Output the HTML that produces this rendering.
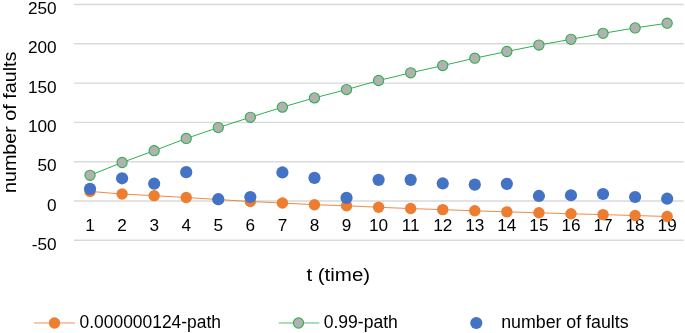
<!DOCTYPE html>
<html><head><meta charset="utf-8"><title>chart</title><style>
html,body{margin:0;padding:0;background:#fff;}
body{width:685px;height:333px;overflow:hidden;}
svg{display:block;font-family:"Liberation Sans",sans-serif;will-change:transform;}
.tk{font-size:17.2px;fill:#000;}
.xt{font-size:18.0px;fill:#000;}
.yt{font-size:19.0px;fill:#000;}
.lg{font-size:17.5px;fill:#000;}
</style></head><body>
<svg width="685" height="333" viewBox="0 0 685 333">
<line x1="74.0" y1="4.50" x2="683.6" y2="4.50" stroke="#D9D9D9" stroke-width="1.4"/>
<line x1="74.0" y1="43.80" x2="683.6" y2="43.80" stroke="#D9D9D9" stroke-width="1.4"/>
<line x1="74.0" y1="83.10" x2="683.6" y2="83.10" stroke="#D9D9D9" stroke-width="1.4"/>
<line x1="74.0" y1="122.40" x2="683.6" y2="122.40" stroke="#D9D9D9" stroke-width="1.4"/>
<line x1="74.0" y1="161.70" x2="683.6" y2="161.70" stroke="#D9D9D9" stroke-width="1.4"/>
<line x1="74.0" y1="201.00" x2="683.6" y2="201.00" stroke="#D9D9D9" stroke-width="1.4"/>
<line x1="74.0" y1="240.30" x2="683.6" y2="240.30" stroke="#D9D9D9" stroke-width="1.4"/>
<text x="56.6" y="14.10" text-anchor="end" class="tk">250</text>
<text x="56.6" y="53.40" text-anchor="end" class="tk">200</text>
<text x="56.6" y="92.70" text-anchor="end" class="tk">150</text>
<text x="56.6" y="132.00" text-anchor="end" class="tk">100</text>
<text x="56.6" y="171.30" text-anchor="end" class="tk">50</text>
<text x="56.6" y="210.60" text-anchor="end" class="tk">0</text>
<text x="56.6" y="249.90" text-anchor="end" class="tk">-50</text>
<text x="90.03" y="231.0" text-anchor="middle" class="tk">1</text>
<text x="122.09" y="231.0" text-anchor="middle" class="tk">2</text>
<text x="154.16" y="231.0" text-anchor="middle" class="tk">3</text>
<text x="186.22" y="231.0" text-anchor="middle" class="tk">4</text>
<text x="218.28" y="231.0" text-anchor="middle" class="tk">5</text>
<text x="250.35" y="231.0" text-anchor="middle" class="tk">6</text>
<text x="282.41" y="231.0" text-anchor="middle" class="tk">7</text>
<text x="314.47" y="231.0" text-anchor="middle" class="tk">8</text>
<text x="346.54" y="231.0" text-anchor="middle" class="tk">9</text>
<text x="378.60" y="231.0" text-anchor="middle" class="tk">10</text>
<text x="410.66" y="231.0" text-anchor="middle" class="tk">11</text>
<text x="442.73" y="231.0" text-anchor="middle" class="tk">12</text>
<text x="474.79" y="231.0" text-anchor="middle" class="tk">13</text>
<text x="506.85" y="231.0" text-anchor="middle" class="tk">14</text>
<text x="538.92" y="231.0" text-anchor="middle" class="tk">15</text>
<text x="570.98" y="231.0" text-anchor="middle" class="tk">16</text>
<text x="603.04" y="231.0" text-anchor="middle" class="tk">17</text>
<text x="635.11" y="231.0" text-anchor="middle" class="tk">18</text>
<text x="667.17" y="231.0" text-anchor="middle" class="tk">19</text>
<polyline points="90.03,191.41 122.09,194.00 154.16,195.66 186.22,197.54 218.28,199.51 250.35,201.55 282.41,203.04 314.47,204.69 346.54,205.79 378.60,207.29 410.66,208.55 442.73,209.65 474.79,210.82 506.85,211.85 538.92,212.79 570.98,213.81 603.04,214.60 635.11,215.54 667.17,216.48" fill="none" stroke="#ED7D31" stroke-width="0.9"/>
<circle cx="90.03" cy="191.41" r="5.7" fill="#ED7D31"/>
<circle cx="122.09" cy="194.00" r="5.7" fill="#ED7D31"/>
<circle cx="154.16" cy="195.66" r="5.7" fill="#ED7D31"/>
<circle cx="186.22" cy="197.54" r="5.7" fill="#ED7D31"/>
<circle cx="218.28" cy="199.51" r="5.7" fill="#ED7D31"/>
<circle cx="250.35" cy="201.55" r="5.7" fill="#ED7D31"/>
<circle cx="282.41" cy="203.04" r="5.7" fill="#ED7D31"/>
<circle cx="314.47" cy="204.69" r="5.7" fill="#ED7D31"/>
<circle cx="346.54" cy="205.79" r="5.7" fill="#ED7D31"/>
<circle cx="378.60" cy="207.29" r="5.7" fill="#ED7D31"/>
<circle cx="410.66" cy="208.55" r="5.7" fill="#ED7D31"/>
<circle cx="442.73" cy="209.65" r="5.7" fill="#ED7D31"/>
<circle cx="474.79" cy="210.82" r="5.7" fill="#ED7D31"/>
<circle cx="506.85" cy="211.85" r="5.7" fill="#ED7D31"/>
<circle cx="538.92" cy="212.79" r="5.7" fill="#ED7D31"/>
<circle cx="570.98" cy="213.81" r="5.7" fill="#ED7D31"/>
<circle cx="603.04" cy="214.60" r="5.7" fill="#ED7D31"/>
<circle cx="635.11" cy="215.54" r="5.7" fill="#ED7D31"/>
<circle cx="667.17" cy="216.48" r="5.7" fill="#ED7D31"/>
<polyline points="90.03,175.30 122.09,162.49 154.16,150.70 186.22,138.43 218.28,127.59 250.35,117.29 282.41,107.15 314.47,97.88 346.54,89.55 378.60,80.51 410.66,72.80 442.73,65.57 474.79,58.18 506.85,51.50 538.92,45.06 570.98,39.32 603.04,33.35 635.11,27.92 667.17,23.21" fill="none" stroke="#2DB04F" stroke-width="1.0"/>
<circle cx="90.03" cy="175.30" r="5.1" fill="#B2B0B2" stroke="#2DB04F" stroke-width="1.1"/>
<circle cx="122.09" cy="162.49" r="5.1" fill="#B2B0B2" stroke="#2DB04F" stroke-width="1.1"/>
<circle cx="154.16" cy="150.70" r="5.1" fill="#B2B0B2" stroke="#2DB04F" stroke-width="1.1"/>
<circle cx="186.22" cy="138.43" r="5.1" fill="#B2B0B2" stroke="#2DB04F" stroke-width="1.1"/>
<circle cx="218.28" cy="127.59" r="5.1" fill="#B2B0B2" stroke="#2DB04F" stroke-width="1.1"/>
<circle cx="250.35" cy="117.29" r="5.1" fill="#B2B0B2" stroke="#2DB04F" stroke-width="1.1"/>
<circle cx="282.41" cy="107.15" r="5.1" fill="#B2B0B2" stroke="#2DB04F" stroke-width="1.1"/>
<circle cx="314.47" cy="97.88" r="5.1" fill="#B2B0B2" stroke="#2DB04F" stroke-width="1.1"/>
<circle cx="346.54" cy="89.55" r="5.1" fill="#B2B0B2" stroke="#2DB04F" stroke-width="1.1"/>
<circle cx="378.60" cy="80.51" r="5.1" fill="#B2B0B2" stroke="#2DB04F" stroke-width="1.1"/>
<circle cx="410.66" cy="72.80" r="5.1" fill="#B2B0B2" stroke="#2DB04F" stroke-width="1.1"/>
<circle cx="442.73" cy="65.57" r="5.1" fill="#B2B0B2" stroke="#2DB04F" stroke-width="1.1"/>
<circle cx="474.79" cy="58.18" r="5.1" fill="#B2B0B2" stroke="#2DB04F" stroke-width="1.1"/>
<circle cx="506.85" cy="51.50" r="5.1" fill="#B2B0B2" stroke="#2DB04F" stroke-width="1.1"/>
<circle cx="538.92" cy="45.06" r="5.1" fill="#B2B0B2" stroke="#2DB04F" stroke-width="1.1"/>
<circle cx="570.98" cy="39.32" r="5.1" fill="#B2B0B2" stroke="#2DB04F" stroke-width="1.1"/>
<circle cx="603.04" cy="33.35" r="5.1" fill="#B2B0B2" stroke="#2DB04F" stroke-width="1.1"/>
<circle cx="635.11" cy="27.92" r="5.1" fill="#B2B0B2" stroke="#2DB04F" stroke-width="1.1"/>
<circle cx="667.17" cy="23.21" r="5.1" fill="#B2B0B2" stroke="#2DB04F" stroke-width="1.1"/>
<circle cx="90.03" cy="188.82" r="6.1" fill="#4472C4"/>
<circle cx="122.09" cy="178.28" r="6.1" fill="#4472C4"/>
<circle cx="154.16" cy="183.71" r="6.1" fill="#4472C4"/>
<circle cx="186.22" cy="172.15" r="6.1" fill="#4472C4"/>
<circle cx="218.28" cy="199.19" r="6.1" fill="#4472C4"/>
<circle cx="250.35" cy="196.99" r="6.1" fill="#4472C4"/>
<circle cx="282.41" cy="172.47" r="6.1" fill="#4472C4"/>
<circle cx="314.47" cy="177.89" r="6.1" fill="#4472C4"/>
<circle cx="346.54" cy="197.93" r="6.1" fill="#4472C4"/>
<circle cx="378.60" cy="179.86" r="6.1" fill="#4472C4"/>
<circle cx="410.66" cy="179.86" r="6.1" fill="#4472C4"/>
<circle cx="442.73" cy="183.47" r="6.1" fill="#4472C4"/>
<circle cx="474.79" cy="184.57" r="6.1" fill="#4472C4"/>
<circle cx="506.85" cy="183.87" r="6.1" fill="#4472C4"/>
<circle cx="538.92" cy="195.97" r="6.1" fill="#4472C4"/>
<circle cx="570.98" cy="195.26" r="6.1" fill="#4472C4"/>
<circle cx="603.04" cy="194.00" r="6.1" fill="#4472C4"/>
<circle cx="635.11" cy="196.99" r="6.1" fill="#4472C4"/>
<circle cx="667.17" cy="198.72" r="6.1" fill="#4472C4"/>
<text x="306.4" y="280.7" textLength="63.8" lengthAdjust="spacingAndGlyphs" class="xt">t (time)</text>
<text transform="translate(16.1,193.0) rotate(-90)" x="0" y="0" textLength="141.4" lengthAdjust="spacingAndGlyphs" class="yt">number of faults</text>
<line x1="34.1" y1="323.0" x2="74.9" y2="323.0" stroke="#F3B58C" stroke-width="1.6"/>
<circle cx="54.5" cy="323.0" r="5.7" fill="#ED7D31"/>
<text x="79.6" y="327.7" textLength="141.4" lengthAdjust="spacingAndGlyphs" class="lg">0.000000124-path</text>
<line x1="278.8" y1="323.0" x2="319.3" y2="323.0" stroke="#8FD3A0" stroke-width="1.6"/>
<circle cx="298.5" cy="323.0" r="5.1" fill="#B2B0B2" stroke="#2DB04F" stroke-width="1.1"/>
<text x="323.7" y="327.7" textLength="74.1" lengthAdjust="spacingAndGlyphs" class="lg">0.99-path</text>
<circle cx="476.3" cy="323.0" r="6.1" fill="#4472C4"/>
<text x="501.2" y="327.7" textLength="127.4" lengthAdjust="spacingAndGlyphs" class="lg">number of faults</text>
</svg>
</body></html>
